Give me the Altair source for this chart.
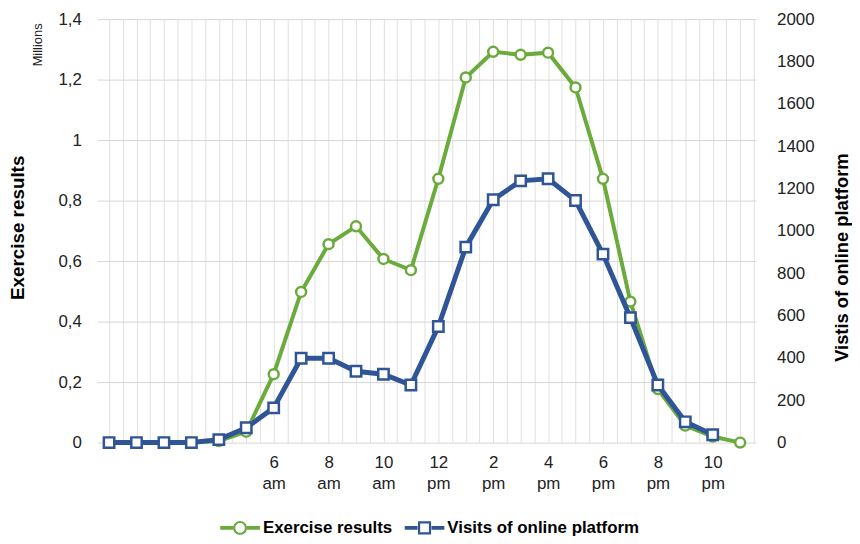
import altair as alt
import pandas as pd

# ---- data ----
hours = list(range(24))
exercise_millions = [0, 0, 0, 0, 0.005, 0.036, 0.226, 0.498, 0.656, 0.715, 0.607, 0.57,
                     0.872, 1.207, 1.292, 1.282, 1.289, 1.174, 0.872, 0.466, 0.177, 0.056, 0.02, 0]
visit_hours = list(range(23))
visits = [0, 0, 0, 0, 14, 70, 164, 398, 398, 337, 323, 272,
          548, 923, 1147, 1236, 1246, 1143, 890, 590, 272, 98, 37]

series_names = ["Exercise results", "Visits of online platform"]
series_colors = ["#6aab3c", "#2f5597"]
left_ticks = [0, 0.2, 0.4, 0.6, 0.8, 1.0, 1.2, 1.4]
right_ticks = [0, 200, 400, 600, 800, 1000, 1200, 1400, 1600, 1800, 2000]
grid_x = [h / 2 for h in range(0, 48)]

GREEN, BLUE = series_colors
FONT = "Liberation Sans"

ex_df = pd.DataFrame({"hour": hours, "value": exercise_millions, "series": series_names[0]})
vi_df = pd.DataFrame({"hour": visit_hours, "value": visits, "series": series_names[1]})

x_scale = alt.Scale(domain=[-0.43, 23.57], nice=False, zero=False)

label_expr = ("(datum.value >= 6 && datum.value <= 22 && datum.value % 2 == 0) ? "
              "[toString(datum.value > 12 ? datum.value - 12 : datum.value), "
              "datum.value < 12 ? 'am' : 'pm'] : ''")

x_axis = alt.Axis(values=grid_x, grid=True, gridColor="#e0e0e0", gridWidth=1,
                  ticks=False, domain=False, labelExpr=label_expr, labelOverlap=False,
                  labelFlush=False, labelPadding=12, labelFontSize=17, labelLineHeight=21,
                  labelColor="#222222", labelAlign="center", labelBaseline="top", title=None)

x_enc = alt.X("hour:Q", scale=x_scale, axis=x_axis)

left_y = alt.Y("value:Q", scale=alt.Scale(domain=[0, 1.4], nice=False, zero=True),
               axis=alt.Axis(values=left_ticks,
                             labelExpr="replace(format(datum.value, '~g'), '.', ',')",
                             grid=True, gridColor="#d6d6d6", ticks=False, domain=False,
                             labelPadding=16, labelFontSize=17, labelColor="#222222",
                             title="Exercise results", titleFontSize=19, titleFontWeight="bold",
                             titleColor="black", titleAngle=270, titleX=-80, titleY=210,
                             titleBaseline="middle", titleAlign="center"))

right_y = alt.Y("value:Q", scale=alt.Scale(domain=[0, 2000], nice=False, zero=True),
                axis=alt.Axis(orient="right", values=right_ticks, format="d", grid=False,
                              ticks=False, domain=False, labelPadding=21, labelFontSize=17,
                              labelColor="#222222",
                              title="Vistis of online platform", titleFontSize=18.5,
                              titleFontWeight="bold", titleColor="black", titleAngle=270,
                              titleX=86, titleY=240, titleBaseline="middle", titleAlign="center"))

g_line = alt.Chart(ex_df).mark_line(color=GREEN, strokeWidth=4).encode(x=x_enc, y=left_y)
g_pts = alt.Chart(ex_df).mark_point(shape="circle", size=100, filled=True, fill="white",
                                    stroke=GREEN, strokeWidth=2.5, opacity=1).encode(
    x=x_enc, y=left_y)
green = alt.layer(g_line, g_pts)

b_line = alt.Chart(vi_df).mark_line(color=BLUE, strokeWidth=5).encode(x=x_enc, y=right_y)
b_pts = alt.Chart(vi_df).mark_point(shape="square", size=110, filled=True, fill="white",
                                    stroke=BLUE, strokeWidth=2.5, opacity=1).encode(
    x=x_enc, y=right_y)
blue = alt.layer(b_line, b_pts)

# legend symbols: line segments with a hollow marker in the middle
bars = "M-1,-0.1H-0.35V0.1H-1Z M0.35,-0.1H1V0.1H0.35Z "
circ_sym = (bars + "M0.35,0A0.35,0.35,0,1,1,-0.35,0A0.35,0.35,0,1,1,0.35,0Z "
            "M0.24,0A0.24,0.24,0,1,0,-0.24,0A0.24,0.24,0,1,0,0.24,0Z")
sq_sym = (bars + "M-0.33,-0.33H0.33V0.33H-0.33Z M-0.22,-0.22V0.22H0.22V-0.22Z")

legend = alt.Legend(orient="none", legendX=124, legendY=493, direction="horizontal",
                    title=None, labelFontSize=17, labelFontWeight="bold", labelColor="black",
                    labelFont=FONT, labelLimit=400, columnPadding=12, labelOffset=3,
                    symbolSize=1600, symbolStrokeWidth=0, symbolOpacity=1)

carrier = alt.Chart(pd.DataFrame({"series": series_names})).transform_filter("false").mark_point(
    filled=True, size=1600, strokeWidth=0, opacity=1).encode(
    color=alt.Color("series:N", scale=alt.Scale(domain=series_names, range=series_colors),
                    legend=legend),
    shape=alt.Shape("series:N", scale=alt.Scale(domain=series_names, range=[circ_sym, sq_sym]),
                    legend=legend))

millions = alt.Chart(pd.DataFrame({"t": ["Millions"]})).mark_text(
    angle=270, fontSize=13, align="center", baseline="middle", color="#222222").encode(
    text="t:N", x=alt.value(-60), y=alt.value(26))

chart = alt.layer(green, blue, carrier, millions).resolve_scale(
    y="independent", color="independent", shape="independent").properties(
    width=664, height=427, autosize="none",
    padding={"left": 90, "top": 9, "right": 97, "bottom": 92},
).configure(font=FONT).configure_view(fill="#efefef", stroke=None)

chart.save("out.html", embed_options={"renderer": "svg", "actions": False})
